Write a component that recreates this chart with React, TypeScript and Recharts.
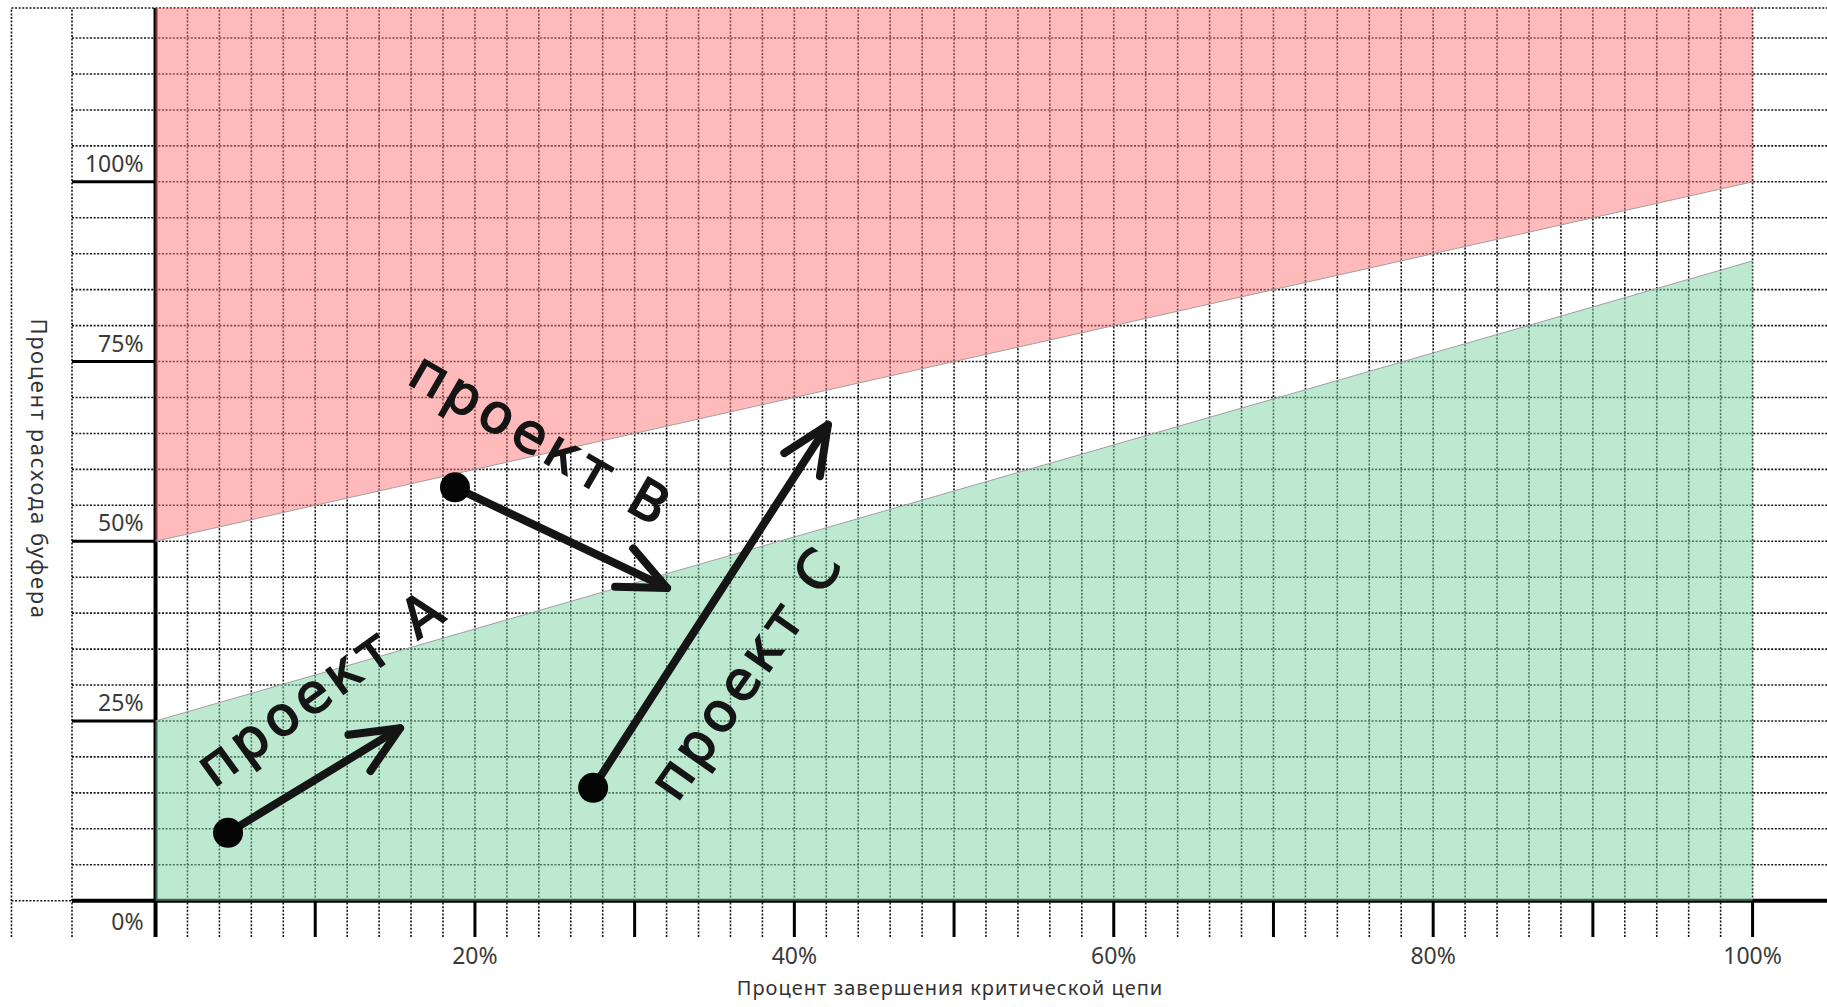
import React from 'react';
import { ComposedChart, Area, XAxis, YAxis, ReferenceLine, ReferenceDot, Label } from 'recharts';

// ---- data ----
const zoneX = [0, 100];
const redLower = [50, 100];
const greenUpper = [25, 89];

const xLabelTicks = [20, 40, 60, 80, 100];
const xMajorTicks = [10, 20, 30, 40, 50, 60, 70, 80, 90, 100];
const yLabelTicks = [0, 25, 50, 75, 100];
const yMajorTicks = [25, 50, 75, 100];
const yMinorGrid = [5, 10, 15, 20, 25, 30, 35, 40, 45, 50, 55, 60, 65, 70, 75, 80, 85, 90, 95, 100, 105, 110, 115, 120];
const xMinorGrid = [2, 4, 6, 8, 10, 12, 14, 16, 18, 20, 22, 24, 26, 28, 30, 32, 34, 36, 38, 40, 42, 44, 46, 48, 50, 52, 54, 56, 58, 60, 62, 64, 66, 68, 70, 72, 74, 76, 78, 80, 82, 84, 86, 88, 90, 92, 94, 96, 98, 100];

const projectNames = ['проект A', 'проект B', 'проект C'];
const projectStartX = [4.54, 18.75, 27.4];
const projectStartY = [9.44, 57.5, 15.7];
const projectEndX = [15.31, 32.03, 42.1];
const projectEndY = [24.0, 43.5, 66.2];
const labelX = [10.4, 24.2, 37.0];
const labelY = [29.7, 64.1, 31.8];
const labelAngle = [-36, 30, -55];

const xTitle = 'Процент завершения критической цепи';
const yTitle = 'Процент расхода буфера';

// ---- layout ----
const W = 1827;
const H = 1007;
const X_MIN = -5.23;
const X_MAX = 104.66;
const X_OUTER = -9.02;
const Y_MIN = -5.05;
const Y_MAX = 124.18;

const zoneData = zoneX.map((x, i) => ({
  x,
  red: [redLower[i], Y_MAX],
  green: [0, greenUpper[i]],
}));

const FONT = '"Noto Sans", "Open Sans", sans-serif';
const DOT = { stroke: '#151515', strokeWidth: 1.6, strokeDasharray: '2 1.6' };

const XTick = (props: any) => {
  const { x, payload } = props;
  return (
    <text x={x} y={964} textAnchor="middle" fontFamily={FONT} fontSize={23} fill="#3a3a3a">
      {payload.value}%
    </text>
  );
};

const YTick = (props: any) => {
  const { y, payload } = props;
  const v = payload.value;
  return (
    <text x={143.5} y={v === 0 ? y + 29 : y - 10} textAnchor="end" fontFamily={FONT} fontSize={23} fill="#3a3a3a">
      {v}%
    </text>
  );
};

const ArrowShape = (props: any) => {
  const { x1, y1, x2, y2 } = props;
  const ang = Math.atan2(y2 - y1, x2 - x1);
  const L = 52;
  const s = 0.42;
  const w1x = x2 - L * Math.cos(ang - s);
  const w1y = y2 - L * Math.sin(ang - s);
  const w2x = x2 - L * Math.cos(ang + s);
  const w2y = y2 - L * Math.sin(ang + s);
  return (
    <g>
      <line x1={x1} y1={y1} x2={x2} y2={y2} stroke="#151515" strokeWidth={8} strokeLinecap="round" />
      <polyline
        points={`${w1x},${w1y} ${x2},${y2} ${w2x},${w2y}`}
        fill="none"
        stroke="#151515"
        strokeWidth={8}
        strokeLinecap="round"
        strokeLinejoin="round"
      />
      <circle cx={x1} cy={y1} r={15} fill="#050505" />
    </g>
  );
};

const makeTextShape = (text: string, angle: number) => (p: any) => {
  const { cx, cy } = p;
  return (
    <text
      x={cx}
      y={cy}
      transform={`rotate(${angle} ${cx} ${cy})`}
      textAnchor="middle"
      dominantBaseline="central"
      fontFamily='"DejaVu Sans", sans-serif'
      fontSize={54}
      letterSpacing={5}
      fill="#151515"
      stroke="#151515"
      strokeWidth={1.6}
    >
      {text}
    </text>
  );
};

export default function App() {
  return (
    <div style={{ position: 'absolute', left: 0, top: 0, width: W, height: H, overflow: 'hidden', background: '#fff' }}>
      <ComposedChart width={W} height={H} data={zoneData} margin={{ top: 8, right: 0, bottom: 0, left: 0 }}>
        <XAxis
          type="number"
          dataKey="x"
          domain={[X_MIN, X_MAX]}
          allowDataOverflow
          ticks={xLabelTicks}
          interval={0}
          height={70}
          axisLine={false}
          tickLine={false}
          tick={XTick}
        >
          <Label
            content={() => (
              <text x={950} y={995} textAnchor="middle" fontFamily={FONT} fontSize={20} letterSpacing={1} fill="#333">
                {xTitle}
              </text>
            )}
          />
        </XAxis>
        <YAxis
          type="number"
          domain={[Y_MIN, Y_MAX]}
          allowDataOverflow
          ticks={yLabelTicks}
          interval={0}
          width={72}
          axisLine={false}
          tickLine={false}
          tick={YTick}
        >
          <Label
            content={() => (
              <text
                x={39.5}
                y={469}
                transform="rotate(90 39.5 469)"
                textAnchor="middle"
                dominantBaseline="central"
                fontFamily={FONT}
                fontSize={22}
                letterSpacing={1.6}
                fill="#333"
              >
                {yTitle}
              </text>
            )}
          />
        </YAxis>

        {/* dotted frame + grid */}
        <ReferenceLine ifOverflow="visible" segment={[{ x: X_OUTER, y: Y_MAX }, { x: X_MAX, y: Y_MAX }]} {...DOT} />
        <ReferenceLine ifOverflow="visible" segment={[{ x: X_OUTER, y: Y_MIN }, { x: X_OUTER, y: Y_MAX }]} {...DOT} />
        <ReferenceLine ifOverflow="visible" segment={[{ x: X_MIN, y: Y_MIN }, { x: X_MIN, y: Y_MAX }]} {...DOT} />
        <ReferenceLine ifOverflow="visible" segment={[{ x: X_OUTER, y: 0 }, { x: X_MIN, y: 0 }]} {...DOT} />
        {yMinorGrid.map((v) => (
          <ReferenceLine key={'h' + v} ifOverflow="visible" segment={[{ x: X_MIN, y: v }, { x: X_MAX, y: v }]} {...DOT} />
        ))}
        {xMinorGrid.map((v) => (
          <ReferenceLine key={'v' + v} ifOverflow="visible" segment={[{ x: v, y: Y_MIN }, { x: v, y: Y_MAX }]} {...DOT} />
        ))}

        {/* thick axes and ticks */}
        {yMajorTicks.map((v) => (
          <ReferenceLine key={'yt' + v} ifOverflow="visible" segment={[{ x: X_MIN, y: v }, { x: 0, y: v }]} stroke="#000" strokeWidth={3} />
        ))}
        {xMajorTicks.map((v) => (
          <ReferenceLine key={'xt' + v} ifOverflow="visible" segment={[{ x: v, y: 0 }, { x: v, y: Y_MIN }]} stroke="#000" strokeWidth={3} />
        ))}
        <ReferenceLine ifOverflow="visible" segment={[{ x: X_MIN, y: 0 }, { x: X_MAX, y: 0 }]} stroke="#000" strokeWidth={4} />
        <ReferenceLine ifOverflow="visible" segment={[{ x: 0, y: Y_MIN }, { x: 0, y: Y_MAX }]} stroke="#000" strokeWidth={4} />

        {/* zones */}
        <Area
          type="linear"
          dataKey="red"
          stroke="none"
          fill="rgb(255,119,119)"
          fillOpacity={0.5}
          isAnimationActive={false}
          activeDot={false}
          zIndex={450}
        />
        <Area
          type="linear"
          dataKey="green"
          stroke="none"
          fill="rgb(123,211,163)"
          fillOpacity={0.5}
          isAnimationActive={false}
          activeDot={false}
          zIndex={450}
        />
        <ReferenceLine
          ifOverflow="visible"
          segment={[{ x: zoneX[0], y: redLower[0] }, { x: zoneX[1], y: redLower[1] }]}
          stroke="#a0a0a0"
          strokeWidth={1}
          zIndex={460}
        />
        <ReferenceLine
          ifOverflow="visible"
          segment={[{ x: zoneX[0], y: greenUpper[0] }, { x: zoneX[1], y: greenUpper[1] }]}
          stroke="#a0a0a0"
          strokeWidth={1}
          zIndex={460}
        />

        {/* hand-drawn annotations */}
        {projectNames.map((n, i) => (
          <ReferenceLine
            key={'arr' + i}
            ifOverflow="visible"
            segment={[{ x: projectStartX[i], y: projectStartY[i] }, { x: projectEndX[i], y: projectEndY[i] }]}
            shape={ArrowShape}
            zIndex={1500}
          />
        ))}
        {projectNames.map((n, i) => (
          <ReferenceDot
            key={'lbl' + i}
            ifOverflow="visible"
            x={labelX[i]}
            y={labelY[i]}
            r={1}
            shape={makeTextShape(n, labelAngle[i])}
            zIndex={1500}
          />
        ))}
      </ComposedChart>
    </div>
  );
}
